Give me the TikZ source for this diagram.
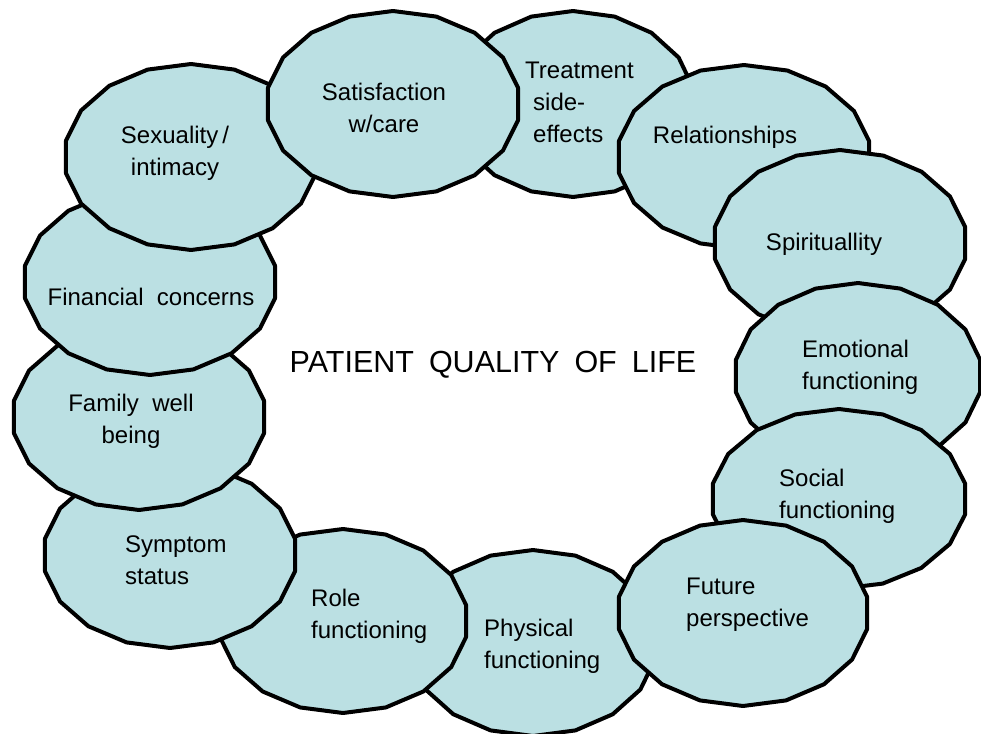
\documentclass[tikz,border=0pt]{standalone}
\usepackage{fontspec}
\setmainfont{Liberation Sans}
\usepackage{xcolor}
\usetikzlibrary{positioning}
\definecolor{qolteal}{HTML}{BBE0E3}

\begin{document}
\begin{tikzpicture}[
  x=1pt,y=-1pt,
  blob/.style={draw=black,fill=qolteal,line width=4pt,line join=round},
  facet/.style={inner sep=0pt,align=left,font=\fontsize{24}{32}\selectfont},
  core/.style={inner sep=0pt,font=\fontsize{30.5}{36}\selectfont}
]
\useasboundingbox (0,0) rectangle (981,733);

% the ring of domains, back to front
\foreach \cx/\cy/\rx/\ry in {533/643/124/93, 343/621/125/92, 170/555/127/93,
    139/417/127/93, 150/282/127/93, 191/157/127/93, 573/104/122/93,
    393/104/127/93, 744/157/127/92, 840/243/127/93, 858/376/124/93,
    839/499/128/90, 743/613/126/93}
  \draw[blob,shift={(\cx,\cy)}] plot[samples=19,domain=90:450]
    ({\rx*cos(\x)},{\ry*sin(\x)}) -- cycle;

\node[core] (qol) at (493,365)
  {PATIENT\hspace{15pt}QUALITY\hspace{15pt}OF\hspace{15pt}LIFE};

\node[facet,align=center] (satisf) at (384,108) {Satisfaction\\w/care};
\node[facet,anchor=west] (treat) at (525,102)
  {Treatment\\\hspace*{8pt}side-\\\hspace*{8pt}effects};
\node[facet] (relat) at (725,137) {Relationships};
\node[facet] (spirit) at (824,244) {Spirituallity};
\node[facet,anchor=west] (emot) at (802,367) {Emotional\\functioning};
\node[facet,anchor=west] (social) at (779,496) {Social\\functioning};
\node[facet,anchor=west] (future) at (686,605) {Future\\perspective};
\node[facet,anchor=west] (physical) at (484,646) {Physical\\functioning};
\node[facet,anchor=west] (role) at (311,616) {Role\\functioning};
\node[facet,anchor=west] (symptom) at (125,560) {Symptom\\status};
\node[facet,align=center] (family) at (131,421) {Family\ \ well\\being};
\node[facet] (financial) at (151,297) {Financial\ \ concerns};
\node[facet,align=center] (sexual) at (175,153) {Sexuality\,/\\intimacy};
\end{tikzpicture}
\end{document}
